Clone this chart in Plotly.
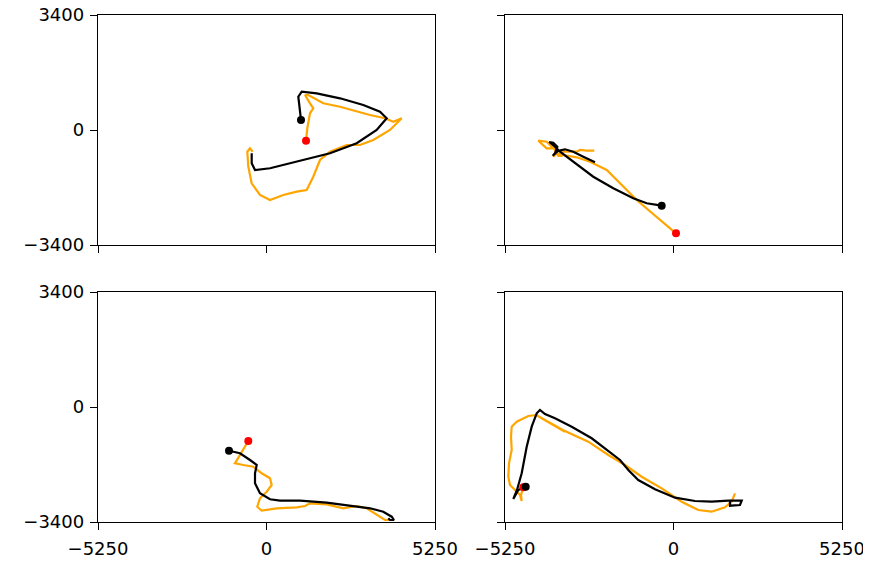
import plotly.graph_objects as go

# ---------------- data ----------------
x_ticks = [-5250, 0, 5250]
y_ticks = [-3400, 0, 3400]
x_tick_labels = ["\u22125250", "0", "5250"]
y_tick_labels = ["\u22123400", "0", "3400"]

# Panel 1 (top-left)
p1_black_x = [1075, 991, 1097, 1564, 2290, 3016, 3536, 3745, 3433, 2810, 1978, 941, 109, -358, -461, -461]
p1_black_y = [296, 985, 1132, 1085, 937, 739, 541, 346, 0, -393, -689, -937, -1132, -1183, -984, -689]
p1_orange_x = [1231, 1271, 1355, 1458, 1355, 1200, 1302, 1564, 1770, 2290, 2810, 3225, 3692, 3951, 4212,
               3848, 3328, 2913, 2499, 1978, 1667, 1458, 1252, 941, 523, 109, -203, -461, -567, -598, -514, -430]
p1_orange_y = [-316, 50, 494, 642, 789, 1035, 1035, 887, 789, 689, 541, 443, 346, 245, 346,
               0, -296, -443, -443, -642, -887, -1381, -1774, -1824, -1922, -2070, -1922, -1576, -1085, -642, -541, -642]

# Panel 2 (top-right)
p2_black_x = [-368, -835, -1253, -1876, -2499, -3122, -3536, -3692, -3870, -3745, -3620, -3692, -3764, -3589, -3381, -3122, -2810, -2446]
p2_black_y = [-2238, -2167, -2019, -1724, -1381, -937, -642, -494, -355, -375, -494, -689, -760, -612, -571, -642, -789, -955]
p2_orange_x = [78, -524, -1147, -1667, -2081, -2602, -3016, -3434, -3639, -3745, -3639, -3951, -4212, -3951, -3692, -3589,
               -3483, -3434, -3016, -2913, -2704, -2468]
p2_orange_y = [-3054, -2563, -2070, -1576, -1183, -937, -807, -739, -689, -789, -541, -541, -316, -346, -591, -769,
               -769, -642, -642, -591, -612, -612]

# Panel 3 (bottom-left)
p3_black_x = [-1168, -826, -514, -305, -358, -358, -203, 109, 421, 1044, 1876, 2602, 3225, 3639, 3901, 3972, 3848, 3795]
p3_black_y = [-1292, -1369, -1567, -1715, -1960, -2256, -2551, -2729, -2770, -2770, -2829, -2927, -2995, -3095, -3243, -3341, -3341, -3291]
p3_orange_x = [-567, -670, -879, -982, -723, -411, -150, 109, 162, 6, -203, -287, -150, 318, 941, 1200, 1355, 1876,
               2393, 2810, 3122, 3433, 3692, 3901]
p3_orange_y = [-1005, -1174, -1517, -1665, -1715, -1765, -1960, -2108, -2306, -2504, -2699, -2948, -3066, -2995, -2965,
               -2927, -2847, -2877, -2995, -2927, -2995, -3193, -3341, -3341]

# Panel 4 (bottom-right)
p4_black_x = [-4605, -4836, -4991, -4876, -4730, -4574, -4418, -4262, -4160, -4004, -3692, -3172, -2549, -1926, -1667,
              -1408, -1097, -576, 47, 670, 1190, 1707, 2125, 2072, 1760, 1760]
p4_black_y = [-2356, -2454, -2720, -2454, -1960, -1174, -582, -186, -89, -207, -334, -582, -925, -1369, -1567,
              -1863, -2158, -2433, -2682, -2779, -2800, -2770, -2770, -2897, -2918, -2750]
p4_orange_x = [-4680, -4751, -4730, -4783, -4938, -5094, -5147, -5125, -5041, -5063, -5041, -4885, -4524, -4262, -4107,
               -3381, -4200, -3450, -2655, -2031, -1511, -991, -368, 255, 773, 1190, 1605, 1813, 1916]
p4_orange_y = [-2374, -2602, -2779, -2602, -2454, -2306, -2061, -1665, -1271, -878, -582, -435, -266, -237, -334,
               -730, -280, -680, -1026, -1419, -1715, -2061, -2404, -2800, -3045, -3095, -2965, -2800, -2551]

panels = [
    (p1_black_x, p1_black_y, p1_orange_x, p1_orange_y),
    (p2_black_x, p2_black_y, p2_orange_x, p2_orange_y),
    (p3_black_x, p3_black_y, p3_orange_x, p3_orange_y),
    (p4_black_x, p4_black_y, p4_orange_x, p4_orange_y),
]

# ---------------- figure ----------------
# page body has an 8px margin; size the figure so it fits the 871x564 window
OFF = 8
W, H = 871 - OFF, 564 - OFF
ml, mr, mt, mb = 98 - OFF, 29, 15 - OFF, 42
pw, ph = W - ml - mr, H - mt - mb

def dx(a, b):
    return [(a - OFF - ml) / pw, (b - OFF - ml) / pw]

def dy(top, bottom):
    return [(H + OFF - mb - bottom) / ph, (H + OFF - mb - top) / ph]

x_domains = [dx(98, 435), dx(505, 842)]
y_domains = [dy(15, 245), dy(292, 522)]

fig = go.Figure()
layout = dict(
    width=W, height=H,
    margin=dict(l=ml, r=mr, t=mt, b=mb, autoexpand=False),
    paper_bgcolor="white", plot_bgcolor="white",
    showlegend=False,
    font=dict(family="DejaVu Sans", size=18, color="black"),
)

for i, (bx, by, ox, oy) in enumerate(panels):
    row, col = divmod(i, 2)
    n = i + 1
    xa = "x" if n == 1 else f"x{n}"
    ya = "y" if n == 1 else f"y{n}"
    fig.add_trace(go.Scatter(x=ox, y=oy, mode="lines", line=dict(color="#FFA500", width=2.2),
                             xaxis=xa, yaxis=ya, hoverinfo="skip"))
    fig.add_trace(go.Scatter(x=bx, y=by, mode="lines", line=dict(color="black", width=2.2),
                             xaxis=xa, yaxis=ya, hoverinfo="skip"))
    fig.add_trace(go.Scatter(x=[ox[0]], y=[oy[0]], mode="markers",
                             marker=dict(color="red", size=8), xaxis=xa, yaxis=ya, hoverinfo="skip"))
    fig.add_trace(go.Scatter(x=[bx[0]], y=[by[0]], mode="markers",
                             marker=dict(color="black", size=8), xaxis=xa, yaxis=ya, hoverinfo="skip"))
    common = dict(showline=True, mirror=True, linecolor="black", linewidth=1.4,
                  ticks="outside", ticklen=7, tickwidth=1.4, tickcolor="black",
                  showgrid=False, zeroline=False, fixedrange=True, automargin=False,
                  ticklabeloverflow="allow")
    layout["xaxis" if n == 1 else f"xaxis{n}"] = dict(
        domain=x_domains[col], range=[-5250, 5250], anchor=ya,
        tickvals=x_ticks, ticktext=x_tick_labels, showticklabels=(row == 1),
        ticklabelstandoff=3, **common)
    layout["yaxis" if n == 1 else f"yaxis{n}"] = dict(
        domain=y_domains[row], range=[-3400, 3400], anchor=xa,
        tickvals=y_ticks, ticktext=y_tick_labels, showticklabels=(col == 0),
        ticklabelstandoff=2, **common)

fig.update_layout(**layout)
fig.write_html("out.html")
